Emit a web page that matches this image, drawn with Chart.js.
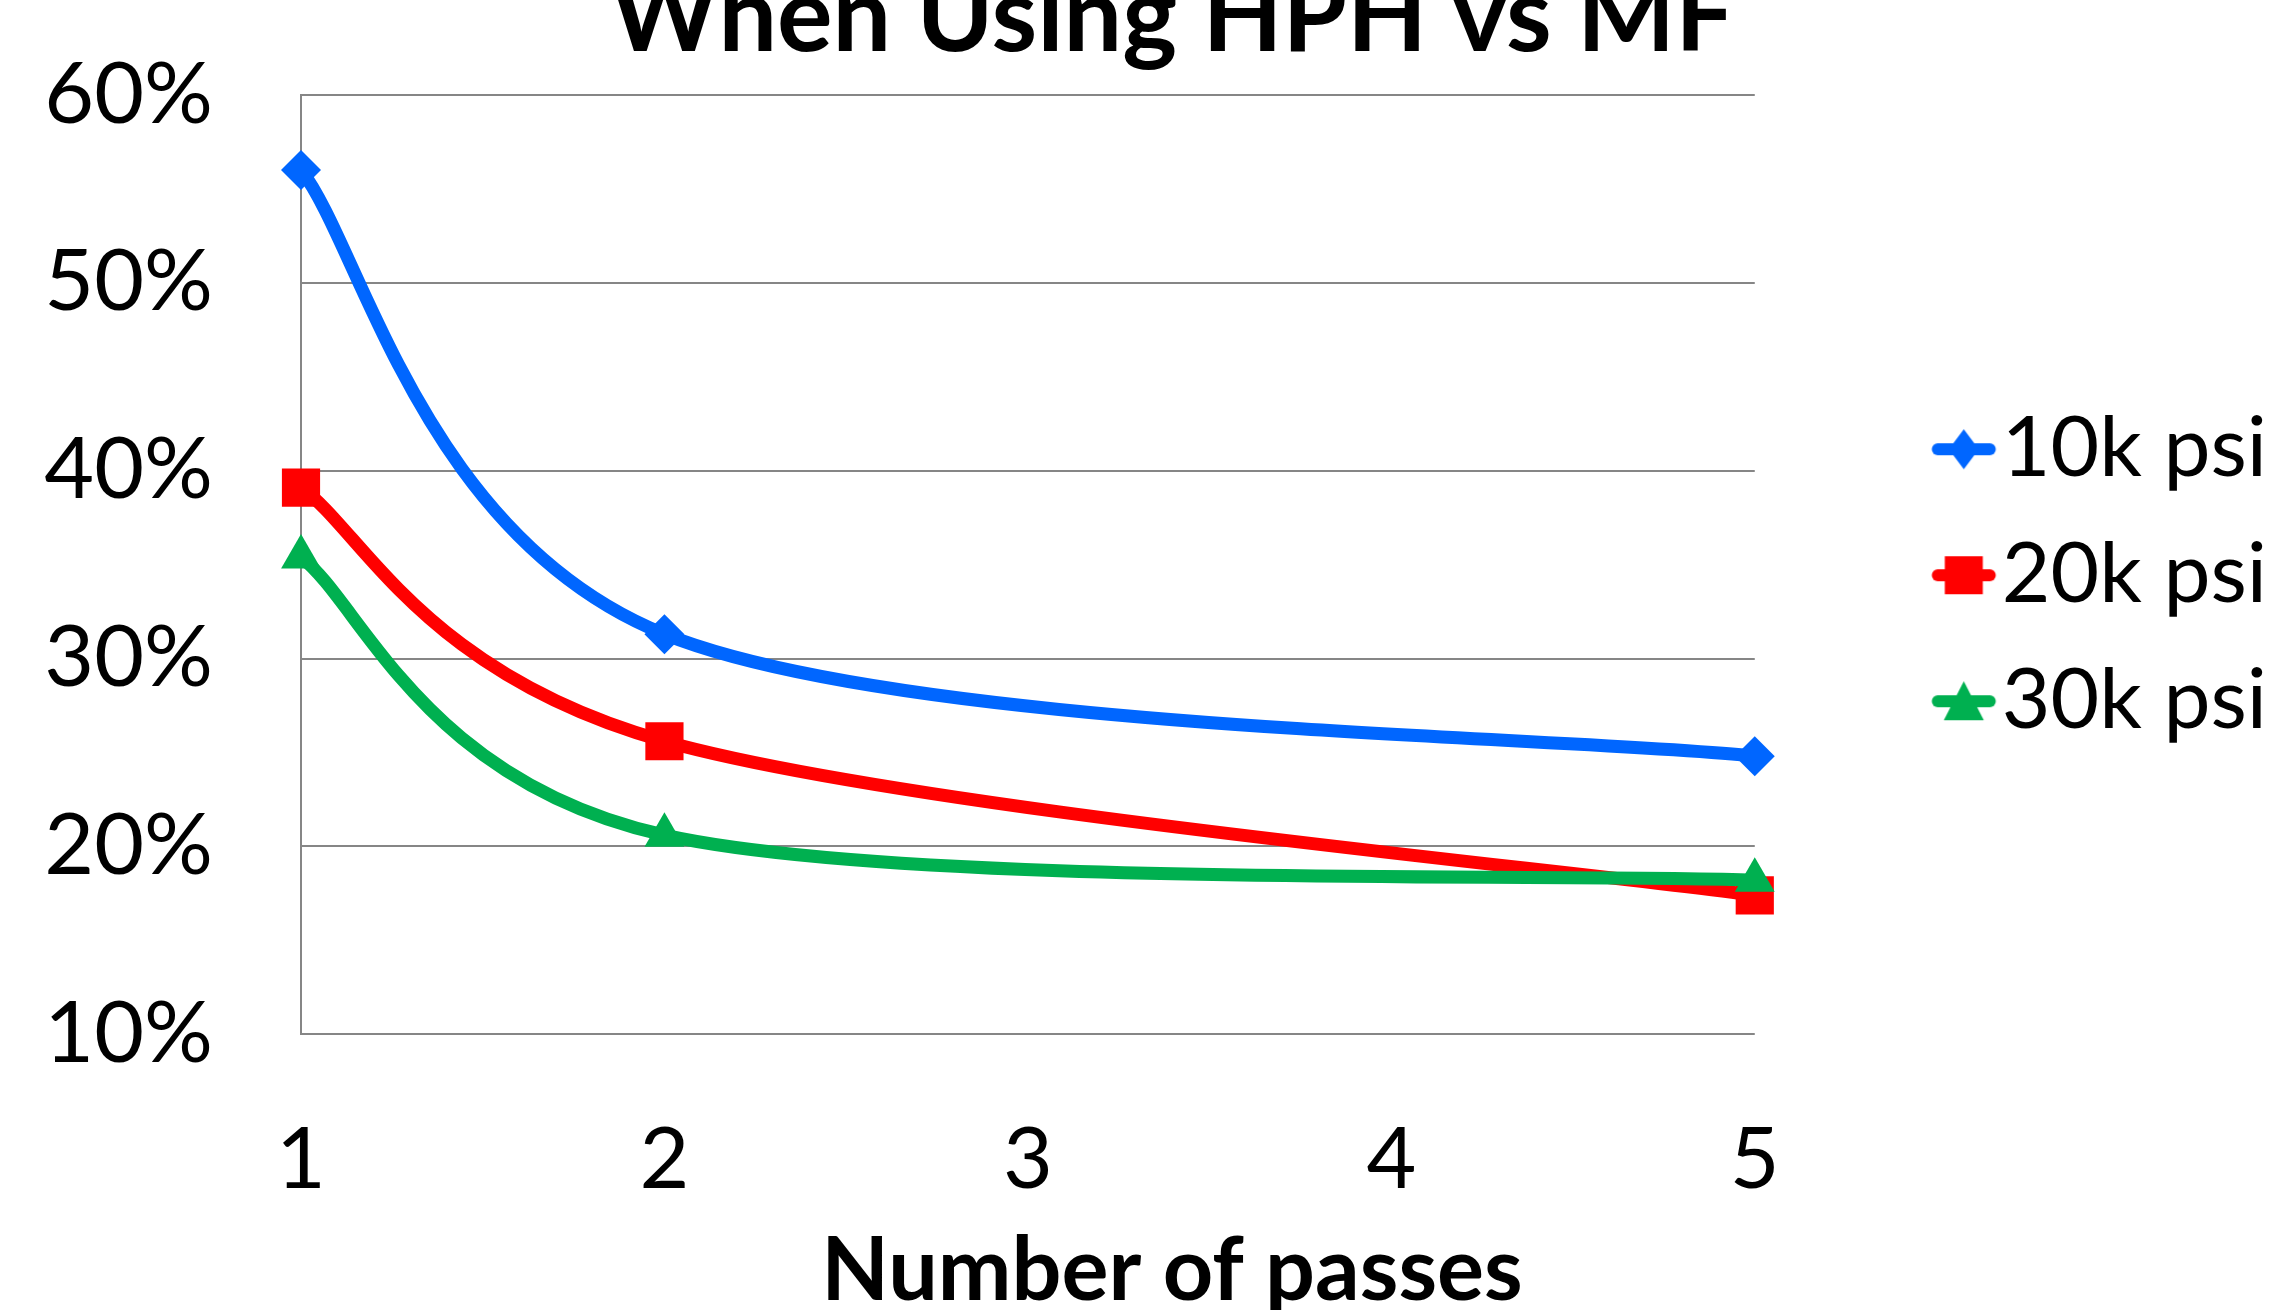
<!DOCTYPE html>
<html>
<head>
<meta charset="utf-8">
<script src="https://cdn.jsdelivr.net/npm/chart.js@4.4.1/dist/chart.umd.min.js"></script>
<style>
  html, body { margin: 0; padding: 0; background: #fff; overflow: hidden; }
  #wrap { position: absolute; left: 0; top: -52px; width: 2304px; height: 1376px; }
</style>
</head>
<body>
<div id="wrap"><canvas id="passChart"></canvas></div>
<script>
// passes where a value was measured
const passes = [1, 2, 5];
const seriesNames = ['10k psi', '20k psi', '30k psi'];
const psi10k = [56.0, 31.3, 24.8];
const psi20k = [39.1, 25.6, 17.4];
const psi30k = [35.4, 20.6, 18.2];
const xTicks = [1, 2, 3, 4, 5];
const yTicks = [10, 20, 30, 40, 50, 60];

const colors = ['#0066FF', '#FF0000', '#00B050'];
const markers = ['rectRot', 'rect', 'triangle'];
const markerRadius = [20, 27, 23];

const legendBox = 163; // space kept for the legend icon

function toPoints(values) {
  return passes.map((p, i) => ({x: p, y: values[i]}));
}

// little line + marker icon for the legend, like the office style
function legendIcon(color, marker) {
  const c = document.createElement('canvas');
  c.width = 260; c.height = 60;
  const g = c.getContext('2d');
  const cx = 130 + legendBox / 2 + 4, cy = 30;
  g.strokeStyle = color; g.fillStyle = color;
  g.lineWidth = 12; g.lineCap = 'round';
  g.beginPath(); g.moveTo(cx - 26, cy); g.lineTo(cx + 26, cy); g.stroke();
  g.beginPath();
  if (marker === 'rectRot') {
    g.moveTo(cx, cy - 20); g.lineTo(cx + 15, cy); g.lineTo(cx, cy + 20); g.lineTo(cx - 15, cy);
  } else if (marker === 'rect') {
    g.rect(cx - 19, cy - 19, 38, 38);
  } else {
    g.moveTo(cx, cy - 20); g.lineTo(cx + 20, cy + 19); g.lineTo(cx - 20, cy + 19);
  }
  g.closePath(); g.fill();
  return c;
}

// spreadsheet-style smoothing: handles are 1/6 of the neighbour span,
// the default chart.js tension overshoots on the long 2 -> 5 stretch
const smoothLines = {
  id: 'smoothLines',
  beforeDatasetDraw(chart, args) {
    const line = args.meta.dataset;
    const pts = args.meta.data;
    line.updateControlPoints(chart.chartArea, 'x');
    pts.forEach((p, i) => {
      const prev = pts[i - 1] || p;
      const next = pts[i + 1] || p;
      const dx = (next.x - prev.x) / 6, dy = (next.y - prev.y) / 6;
      p.cp1x = p.x - dx; p.cp1y = p.y - dy;
      p.cp2x = p.x + dx; p.cp2y = p.y + dy;
    });
    line._path = undefined;
  }
};

const seriesValues = [psi10k, psi20k, psi30k];
const datasets = seriesValues.map((vals, i) => ({
  label: seriesNames[i],
  data: toPoints(vals),
  yAxisID: 'y',
  borderColor: colors[i],
  backgroundColor: colors[i],
  borderWidth: 13,
  tension: 0.35,
  pointStyle: markers[i],
  pointRadius: markerRadius[i],
  pointHoverRadius: markerRadius[i],
  pointBackgroundColor: colors[i],
  pointBorderWidth: 0,
  clip: false,
  order: 2 - i
}));

const grey = '#868686';
const ctx = document.getElementById('passChart').getContext('2d');
const passChart = new Chart(ctx, {
  type: 'line',
  data: { datasets: datasets },
  plugins: [smoothLines],
  options: {
    responsive: true,
    maintainAspectRatio: false,
    animation: false,
    devicePixelRatio: 1,
    layout: { padding: { left: 40, right: 0, top: 0, bottom: 0 } },
    plugins: {
      title: {
        display: true,
        text: 'When Using HPH vs MF',
        color: '#000',
        font: { family: 'Lato', size: 104, weight: 'bold' },
        padding: { top: 7, bottom: 15 }
      },
      subtitle: {
        display: true,
        position: 'bottom',
        text: 'Number of passes',
        color: '#000',
        font: { family: 'Lato', size: 88, weight: 'bold' },
        padding: { top: 0, bottom: 0 }
      },
      legend: {
        position: 'right',
        fullSize: false,
        maxWidth: 700,
        // empty title only nudges the items down a little
        title: { display: true, text: '', font: { size: 1 }, padding: 10 },
        labels: {
          color: '#000',
          font: { family: 'Lato', size: 84 },
          usePointStyle: true,
          pointStyleWidth: legendBox,
          padding: 42,
          generateLabels: function(chart) {
            return chart.data.datasets.map((ds, i) => ({
              text: ds.label,
              fontColor: '#000',
              fillStyle: ds.borderColor,
              strokeStyle: ds.borderColor,
              lineWidth: 0,
              pointStyle: legendIcon(ds.borderColor, markers[i]),
              hidden: false,
              datasetIndex: i
            }));
          }
        }
      },
      tooltip: { enabled: false }
    },
    scales: {
      x: {
        type: 'linear',
        min: xTicks[0],
        max: xTicks[xTicks.length - 1],
        afterBuildTicks: axis => { axis.ticks = xTicks.map(v => ({value: v})); },
        afterFit: axis => { axis.height = 184; },
        grid: { display: false },
        border: { display: false },
        ticks: {
          color: '#000',
          font: { family: 'Lato', size: 86 },
          padding: 66,
          maxRotation: 0
        }
      },
      y: {
        min: yTicks[0],
        max: yTicks[yTicks.length - 1],
        afterBuildTicks: axis => { axis.ticks = yTicks.map(v => ({value: v})); },
        afterFit: axis => { axis.width = 261; },
        grid: { color: grey, lineWidth: 2, drawTicks: false },
        border: { display: true, color: grey, width: 2 },
        ticks: {
          color: '#000',
          font: { family: 'Lato', size: 86 },
          padding: 88,
          callback: v => v + '%'
        }
      },
      // empty strip at the far right, keeps the legend off the edge
      spacer: {
        type: 'linear',
        position: 'right',
        weight: 2000,
        grid: { display: false },
        border: { display: false },
        ticks: { display: false },
        afterFit: axis => { axis.width = 27; }
      }
    }
  }
});
</script>
</body>
</html>
